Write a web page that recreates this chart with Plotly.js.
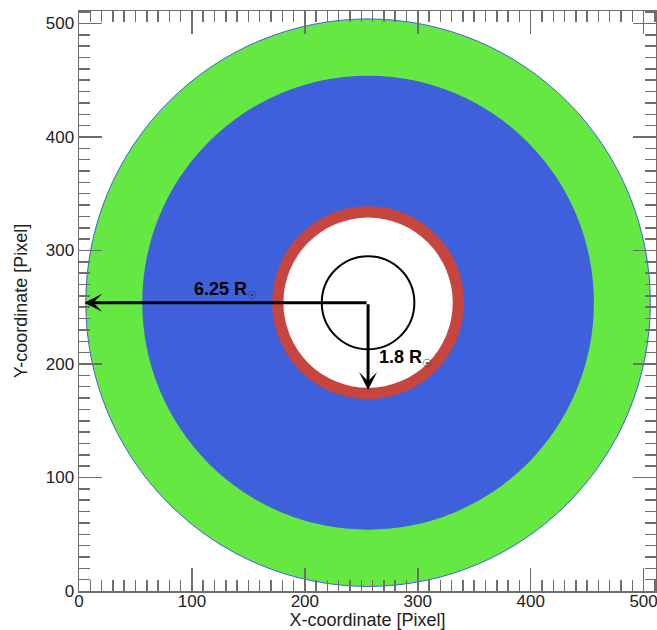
<!DOCTYPE html>
<html>
<head>
<meta charset="utf-8">
<script src="https://cdn.plot.ly/plotly-3.0.1.min.js"></script>
<style>html,body{margin:0;padding:0;background:#fff;}#plot{width:657px;height:630px;}</style>
</head>
<body>
<div id="plot"></div>
<script>
// ---- data ----
const centerX = 256;
const centerY = 254;
const regionNames = ['outer field', 'inner field', 'occulter ring', 'occulter', 'solar disk'];
const regionRadii = [250, 200, 85, 75, 41];
const arrowTipX = [4.7, 256];
const arrowTipY = [254, 177];
const labelTexts = ['6.25 R', '1.8 R'];
const labelX = [100, 264];
const labelY = [265, 205];
const axisRange = [0, 511];
const xTitle = 'X-coordinate [Pixel]';
const yTitle = 'Y-coordinate [Pixel]';

// ---- styles ----
const regionFill = ['#66E842', '#3F60DB', '#C6453F', '#FFFFFF', 'rgba(0,0,0,0)'];
const regionLine = [{color:'#3F60DB', width:1}, {width:0}, {width:0}, {width:0}, {color:'#000', width:2}];
const FONT = 'Liberation Sans, Arial, sans-serif';

const shapes = regionRadii.map((r, i) => ({
  type: 'circle', xref: 'x', yref: 'y', layer: 'below',
  x0: centerX - r, x1: centerX + r, y0: centerY - r, y1: centerY + r,
  fillcolor: regionFill[i], line: regionLine[i]
}));

const annotations = [];
arrowTipX.forEach((tx, i) => {
  annotations.push({
    x: tx, y: arrowTipY[i], ax: centerX, ay: centerY,
    xref: 'x', yref: 'y', axref: 'x', ayref: 'y',
    text: '', showarrow: true, arrowhead: 3, arrowsize: 1, arrowwidth: 3,
    arrowcolor: '#000', standoff: 0, startstandoff: 0
  });
});
labelTexts.forEach((t, i) => {
  annotations.push({
    x: labelX[i], y: labelY[i], xref: 'x', yref: 'y',
    xanchor: 'left', yanchor: 'middle', showarrow: false,
    text: '<b>' + t + '</b><sub><span style="font-family:DejaVu Sans;font-size:11px;color:#333">☉</span></sub>',
    font: {family: FONT, size: 18, color: '#000'}
  });
});

const axisCommon = {
  range: axisRange, autorange: false,
  showgrid: false, zeroline: false,
  showline: true, linecolor: '#6e6e6e', linewidth: 1.5,
  mirror: 'ticks',
  ticks: 'inside', ticklen: 23, tickwidth: 1.5, tickcolor: '#6e6e6e',
  tick0: 0, dtick: 100,
  minor: {ticks: 'inside', ticklen: 11, tickwidth: 1.5, tickcolor: '#6e6e6e', dtick: 10, showgrid: false},
  tickfont: {family: FONT, size: 17, color: '#222'},
  ticklabeloverflow: 'allow',
  automargin: false
};

const layout = {
  width: 657, height: 630,
  margin: {l: 79, r: 1, t: 11, b: 39},
  paper_bgcolor: '#fff', plot_bgcolor: '#fff',
  showlegend: false,
  xaxis: Object.assign({}, axisCommon, {
    ticklabelstandoff: -6,
    title: {text: xTitle, standoff: 8, font: {family: FONT, size: 18, color: '#222'}}
  }),
  yaxis: Object.assign({}, axisCommon, {
    title: {text: yTitle, standoff: 13, font: {family: FONT, size: 18, color: '#222'}}
  }),
  shapes: shapes,
  annotations: annotations
};

const traces = [{
  x: [centerX], y: [centerY], type: 'scatter', mode: 'markers',
  marker: {size: 1, color: 'rgba(0,0,0,0)'}, hoverinfo: 'skip', name: regionNames[4]
}];

Plotly.newPlot('plot', traces, layout, {displayModeBar: false, staticPlot: true});
</script>
</body>
</html>
